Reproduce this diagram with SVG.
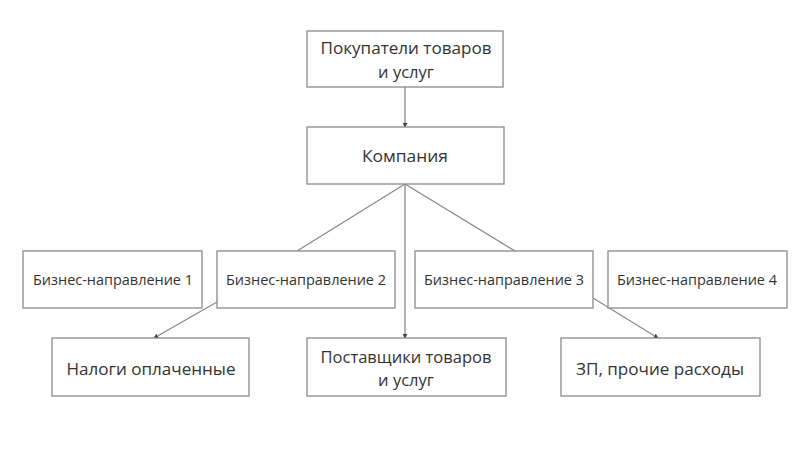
<svg xmlns="http://www.w3.org/2000/svg" width="806" height="453" viewBox="0 0 806 453">
<style>
.box{fill:#fff;stroke:#8a8a8a;stroke-width:1.3}
.t{font-family:"Open Sans","Liberation Sans",sans-serif;fill:#333;text-anchor:middle}
.l{font-size:16.5px}
.s{font-size:14px}
.c{stroke:#8a8a8a;stroke-width:1.3;fill:none}
</style>
<defs>
<marker id="a" viewBox="0 0 6 6" refX="5" refY="3" markerWidth="5" markerHeight="5" orient="auto" markerUnits="userSpaceOnUse">
<path d="M0,0 L6,3 L0,6 z" fill="#444"/>
</marker>
</defs>
<rect width="806" height="453" fill="#fff"/>
<g id="connectors">
<line class="c" x1="405" y1="87" x2="405" y2="127" marker-end="url(#a)"/>
<line class="c" x1="405" y1="184" x2="297" y2="251"/>
<line class="c" x1="405" y1="184" x2="515" y2="251"/>
<line class="c" x1="405" y1="184" x2="405" y2="338" marker-end="url(#a)"/>
<line class="c" x1="217" y1="302" x2="154" y2="338" marker-end="url(#a)"/>
<line class="c" x1="593" y1="298" x2="658" y2="338" marker-end="url(#a)"/>
</g>
<g id="buyers">
<rect class="box" x="307" y="31" width="196" height="56"/>
<text class="t l" x="406" y="54" textLength="171" lengthAdjust="spacingAndGlyphs">Покупатели товаров</text>
<text class="t l" x="406" y="78">и услуг</text>
</g>
<g id="company">
<rect class="box" x="307" y="127" width="197" height="57"/>
<text class="t l" x="405" y="162" textLength="86" lengthAdjust="spacingAndGlyphs">Компания</text>
</g>
<g id="bn1">
<rect class="box" x="23" y="251" width="179" height="57"/>
<text class="t s" x="113" y="285" textLength="160" lengthAdjust="spacingAndGlyphs">Бизнес-направление 1</text>
</g>
<g id="bn2">
<rect class="box" x="217" y="251" width="178" height="57"/>
<text class="t s" x="306" y="285" textLength="160" lengthAdjust="spacingAndGlyphs">Бизнес-направление 2</text>
</g>
<g id="bn3">
<rect class="box" x="415" y="251" width="178" height="57"/>
<text class="t s" x="504" y="285" textLength="160" lengthAdjust="spacingAndGlyphs">Бизнес-направление 3</text>
</g>
<g id="bn4">
<rect class="box" x="608" y="251" width="179" height="57"/>
<text class="t s" x="697" y="285" textLength="160" lengthAdjust="spacingAndGlyphs">Бизнес-направление 4</text>
</g>
<g id="taxes">
<rect class="box" x="52" y="338" width="197" height="58"/>
<text class="t l" x="151" y="375" textLength="169" lengthAdjust="spacingAndGlyphs">Налоги оплаченные</text>
</g>
<g id="suppliers">
<rect class="box" x="307" y="338" width="199" height="58"/>
<text class="t l" x="406" y="363" textLength="171" lengthAdjust="spacingAndGlyphs">Поставщики товаров</text>
<text class="t l" x="406" y="386">и услуг</text>
</g>
<g id="salary">
<rect class="box" x="561" y="338" width="199" height="58"/>
<text class="t l" x="660" y="375" textLength="168" lengthAdjust="spacingAndGlyphs">ЗП, прочие расходы</text>
</g>
</svg>
